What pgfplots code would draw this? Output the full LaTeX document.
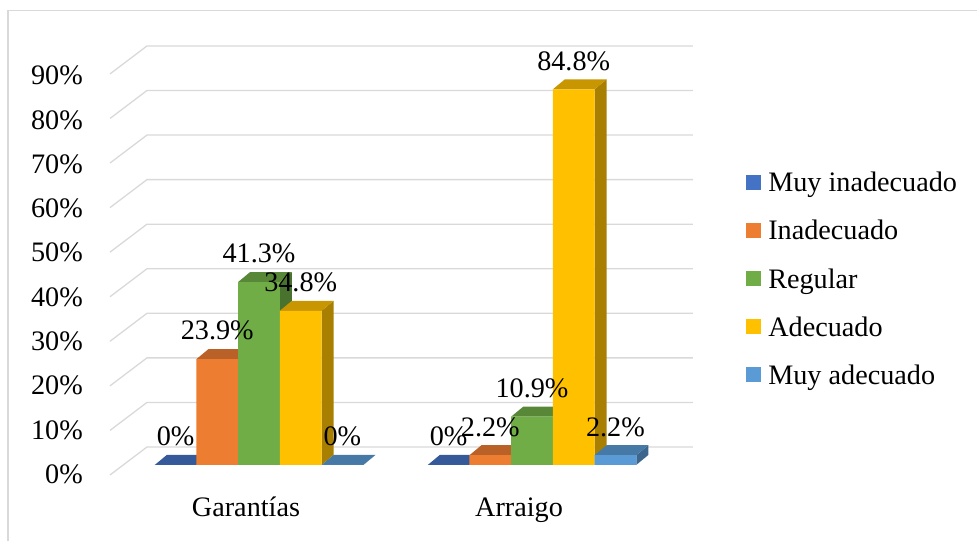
\documentclass[border=0pt]{standalone}
\usepackage{fontspec}
\setmainfont{Liberation Serif}
\usepackage{pgfplots}
\usepackage{pgfplotstable}
\pgfplotsset{compat=1.18}

\definecolor{cblue}{HTML}{4472C4}
\definecolor{corange}{HTML}{ED7D31}
\definecolor{cgreen}{HTML}{70AD47}
\definecolor{cyellow}{HTML}{FFC000}
\definecolor{clblue}{HTML}{5B9BD5}
\definecolor{gridc}{HTML}{D9D9D9}

\newcommand\fsz{\fontsize{28.2pt}{33pt}\selectfont}
\def\bw{0.15275}
\def\ddx{0.044}
\def\ddy{2.257}

\pgfplotstableread{
x blue orange green yellow lblue
0 0 23.9 41.3 34.8 0
1 0 2.2 10.9 84.8 2.2
}\data

% top and side faces of the 3D bars, read from the table
\newcommand\barfaces[3]{%
  \pgfplotsforeachungrouped \r in {0,1}{%
    \pgfplotstablegetelem{\r}{x}\of\data \let\xx=\pgfplotsretval
    \pgfplotstablegetelem{\r}{#1}\of\data \let\vv=\pgfplotsretval
    \pgfmathsetmacro\xa{\xx+(#2)*\bw-\bw/2}%
    \pgfmathsetmacro\xb{\xa+\bw}%
    \pgfmathsetmacro\xc{\xa+\ddx}%
    \pgfmathsetmacro\xd{\xb+\ddx}%
    \pgfmathsetmacro\vt{\vv+\ddy}%
    \edef\temp{%
      \noexpand\addplot[fill=#3!66!black, draw=none, forget plot] coordinates {(\xb,0) (\xd,\ddy) (\xd,\vt) (\xb,\vv)} -- cycle;
      \noexpand\addplot[fill=#3!78!black, draw=none, forget plot] coordinates {(\xa,\vv) (\xb,\vv) (\xd,\vt) (\xc,\vt)} -- cycle;
    }%
    \temp
  }%
}

\pgfplotsset{
  front/.style={ybar, bar width=\bw, draw=none,
    legend image code/.code={\fill[##1, draw=none] (0pt,2pt) rectangle (15pt,17pt);}},
  lab/.style={ybar, bar width=\bw, draw=none, fill=none, forget plot,
    nodes near coords={\pgfmathprintnumber[assume math mode=true]{\pgfplotspointmeta}\%},
    every node near coord/.append style={anchor=south, inner sep=0pt, text depth=0pt, yshift=19pt, xshift=#1, font=\fsz, black}},
}

\begin{document}
\begin{tikzpicture}[x=1pt,y=1pt]
\path[use as bounding box] (0,0) rectangle (977,541);
\draw[gridc, line width=1.3pt] (8,0) -- (8,530.5) -- (977,530.5);
\begin{axis}[
  at={(95.2pt,58.3pt)}, anchor=south west,
  x=273pt, y=4.43pt,
  xmin=-0.6, xmax=1.6, ymin=-4, ymax=96,
  clip=false,
  axis line style={draw=none},
  major tick length=0pt,
  ytick={0,10,...,90},
  yticklabels={0\%,10\%,20\%,30\%,40\%,50\%,60\%,70\%,80\%,90\%},
  xtick={0,1}, xticklabels={Garantías,Arraigo},
  yticklabel style={anchor=base east, inner sep=0pt, xshift=-12.2pt, yshift=-18.5pt, font=\fsz},
  xticklabel style={anchor=base, inner sep=0pt, xshift=-13pt, yshift=-34pt, font=\fsz},
  legend style={at={(1.0836,0.695)}, anchor=north west, draw=none, fill=none,
    inner sep=0pt, outer sep=0pt, row sep=28.6pt, font=\fsz,
    nodes={inner sep=0pt, text height=0.7em, text depth=0.25em, anchor=base west},
    /tikz/every odd column/.append style={column sep=7.3pt}},
]
% back wall grid with 3D floor diagonals
\pgfplotsinvokeforeach{0,10,...,90}{
  \draw[gridc, line width=1.3pt] (axis cs:-0.5458,{-2.257+1.0059*#1}) -- (axis cs:-0.4103,{4.063+1.0059*#1}) -- (axis cs:1.5897,{4.063+1.0059*#1});
}

\barfaces{blue}{-2}{cblue}
\addplot[front, fill=cblue, bar shift=-0.3055] table[x=x,y=blue]{\data};
\addlegendentry{Muy inadecuado}
\barfaces{orange}{-1}{corange}
\addplot[front, fill=corange, bar shift=-0.15275] table[x=x,y=orange]{\data};
\addlegendentry{Inadecuado}
\barfaces{green}{0}{cgreen}
\addplot[front, fill=cgreen, bar shift=0] table[x=x,y=green]{\data};
\addlegendentry{Regular}
\barfaces{yellow}{1}{cyellow}
\addplot[front, fill=cyellow, bar shift=0.15275] table[x=x,y=yellow]{\data};
\addlegendentry{Adecuado}
\barfaces{lblue}{2}{clblue}
\addplot[front, fill=clblue, bar shift=0.3055] table[x=x,y=lblue]{\data};
\addlegendentry{Muy adecuado}

% data labels on top of everything
\addplot[lab=-83.4pt, bar shift=-0.3055] table[x=x,y=blue]{\data};
\addplot[lab=-41.7pt, bar shift=-0.15275] table[x=x,y=orange]{\data};
\addplot[lab=0pt, bar shift=0] table[x=x,y=green]{\data};
\addplot[lab=41.7pt, bar shift=0.15275] table[x=x,y=yellow]{\data};
\addplot[lab=83.4pt, bar shift=0.3055] table[x=x,y=lblue]{\data};
\end{axis}
\end{tikzpicture}
\end{document}
